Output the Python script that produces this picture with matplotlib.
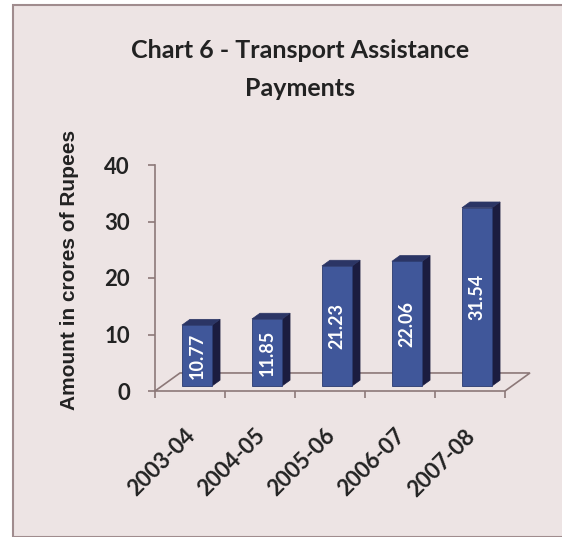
"""Chart 6 - Transport Assistance Payments, pseudo-3D column chart."""

import matplotlib
matplotlib.use('Agg')
from matplotlib import pyplot
from matplotlib.patches import Polygon, Rectangle
import numpy

# Data.
years = ['2003-04', '2004-05', '2005-06', '2006-07', '2007-08']
amounts = [10.77, 11.85, 21.23, 22.06, 31.54]
yticks = [0, 10, 20, 30, 40]

# Look of the chart.
bg_color = '#ede4e4'
line_color = '#8c7878'
front_color = '#40579a'
side_color = '#1b1c40'
top_color = '#2b3565'
depth_x = 0.357   # depth of the floor in category units
depth_y = 3.19    # depth of the floor in value units
bar_front, bar_back = 0.28, 0.60
bar_width = 0.43

W, H = 562, 537
fig = pyplot.figure(figsize=(W / 100, H / 100), dpi=100)
fig.patch.set_facecolor('white')
fig.patches.append(Rectangle((13 / W, 0), 1.0, 1 - 5 / H,
                             transform=fig.transFigure,
                             facecolor=bg_color, edgecolor='#a08c8e',
                             linewidth=1.5, zorder=-5))

ax = fig.add_axes([155 / W, (H - 391) / H, 350 / W, 226 / H])
ax.set_facecolor('none')
ax.set_xlim(0, len(years))
ax.set_ylim(0, 40)
for side in ['top', 'right', 'bottom']:
    ax.spines[side].set_visible(False)
ax.spines['left'].set_color(line_color)
ax.spines['left'].set_linewidth(1.2)

# Floor of the 3D plot.
n = len(years)
floor = Polygon([(0, 0), (n, 0), (n + depth_x, depth_y), (depth_x, depth_y)],
                closed=True, facecolor='none', edgecolor=line_color,
                linewidth=1.2, clip_on=False)
ax.add_patch(floor)

# Columns.
for i, value in enumerate(amounts):
    x0 = i + 0.5 + bar_front * depth_x - bar_width / 2
    x1 = x0 + bar_width
    y0 = bar_front * depth_y
    dx = (bar_back - bar_front) * depth_x
    dy = (bar_back - bar_front) * depth_y
    top = y0 + value
    ax.add_patch(Polygon([(x1, y0), (x1 + dx, y0 + dy), (x1 + dx, top + dy),
                          (x1, top)], closed=True, facecolor=side_color,
                         edgecolor=side_color, linewidth=0.5,
                         clip_on=False, zorder=3))
    ax.add_patch(Polygon([(x0, top), (x1, top), (x1 + dx, top + dy),
                          (x0 + dx, top + dy)], closed=True,
                         facecolor=top_color, edgecolor=top_color,
                         linewidth=0.5, clip_on=False, zorder=3))
    ax.add_patch(Rectangle((x0, y0), bar_width, value,
                           facecolor=front_color, edgecolor='#2a3a70',
                           linewidth=0.6, clip_on=False, zorder=4))
    ax.text(x0 + bar_width / 2, y0 + value / 2, f'{value:.2f}',
            rotation=90, ha='center', va='center', color='white',
            fontsize=13, fontweight='bold', family='Lato', zorder=5)

# Axes ticks and labels.
ax.set_yticks(yticks)
ax.set_yticklabels([str(t) for t in yticks], family='Lato',
                   fontweight='bold', fontsize=16, color='#222222')
ax.tick_params(axis='y', length=5, width=1.2, color=line_color, pad=13)
ax.set_xticks(numpy.arange(n + 1))
ax.set_xticklabels([])
ax.tick_params(axis='x', length=5, width=1.2, color=line_color,
               direction='out')
ax.xaxis.set_ticks_position('bottom')
for i, year in enumerate(years):
    ax.annotate(year, xy=(i + 0.5, 0), xytext=(1, -30),
                textcoords='offset points', rotation=45,
                rotation_mode='anchor', ha='right', va='center',
                family='Lato', fontweight='bold', fontsize=16,
                color='#222222', annotation_clip=False)

fig.text(70 / W, 1 - 270 / H, 'Amount in crores of Rupees', rotation=90,
         ha='center', va='center', family='Liberation Sans',
         fontweight='bold', fontsize=15, color='#222222')
fig.text(300 / W, 1 - 50 / H, 'Chart 6 - Transport Assistance',
         ha='center', va='center', family='Lato', fontweight='bold',
         fontsize=18, color='#222222')
fig.text(300 / W, 1 - 88 / H, 'Payments', ha='center', va='center',
         family='Lato', fontweight='bold', fontsize=18, color='#222222')

fig.savefig('out.png', dpi=100, facecolor=fig.get_facecolor())
